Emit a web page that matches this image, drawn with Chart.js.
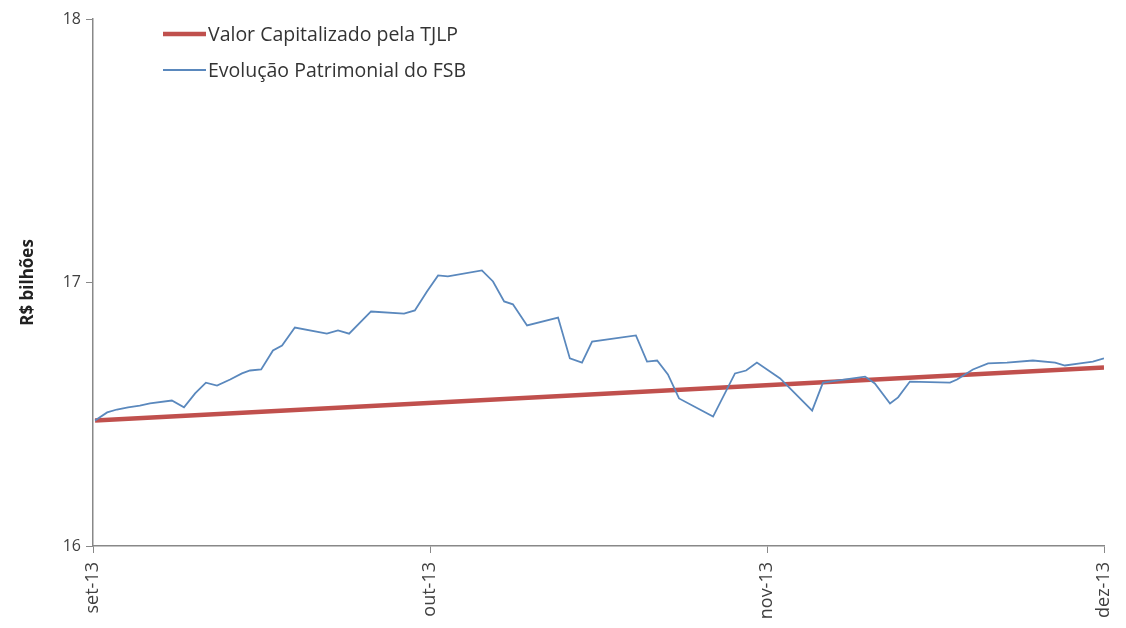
<!DOCTYPE html>
<html>
<head>
<meta charset="utf-8">
<script src="https://cdn.jsdelivr.net/npm/chart.js@4"></script>
<style>
  html, body { margin: 0; padding: 0; background: #fff; }
  #wrap { width: 1126px; height: 628px; }
</style>
</head>
<body>
<div id="wrap"><canvas id="chart" width="1126" height="628"></canvas></div>
<script>
// 横轴：月份标签（x 取值 0..3 = 从 set-13 起的月数）
const monthLabels = ['set-13', 'out-13', 'nov-13', 'dez-13'];
const yTicks = [16, 17, 18];

// 系列名
const tjlpName = 'Valor Capitalizado pela TJLP';
const fsbName = 'Evolução Patrimonial do FSB';

// TJLP 资本化值（直线）
const tjlpX = [0.006, 3.0];
const tjlpY = [16.476, 16.677];

// FSB 资产变化
const fsbX = [
  0.006, 0.042, 0.071, 0.104, 0.139, 0.169, 0.234, 0.270, 0.303, 0.335,
  0.368, 0.407, 0.442, 0.466, 0.499, 0.534, 0.561, 0.599, 0.694, 0.727,
  0.760, 0.825, 0.923, 0.955, 0.991, 1.024, 1.053, 1.154, 1.187, 1.220,
  1.246, 1.288, 1.380, 1.415, 1.451, 1.481, 1.611, 1.644, 1.674, 1.706,
  1.739, 1.840, 1.905, 1.938, 1.970, 2.039, 2.134, 2.166, 2.291, 2.320,
  2.365, 2.389, 2.424, 2.543, 2.564, 2.611, 2.656, 2.712, 2.789, 2.855,
  2.884, 2.929, 2.967, 3.0
];
const fsbY = [
  16.476, 16.507, 16.518, 16.526, 16.533, 16.541, 16.552, 16.526, 16.579, 16.620,
  16.609, 16.632, 16.655, 16.666, 16.670, 16.742, 16.761, 16.829, 16.806, 16.818,
  16.806, 16.890, 16.882, 16.894, 16.966, 17.027, 17.023, 17.046, 17.004, 16.928,
  16.917, 16.837, 16.867, 16.712, 16.696, 16.776, 16.799, 16.700, 16.704, 16.651,
  16.560, 16.491, 16.655, 16.666, 16.696, 16.636, 16.514, 16.620, 16.643, 16.617,
  16.541, 16.564, 16.624, 16.620, 16.632, 16.670, 16.693, 16.696, 16.704, 16.696,
  16.685, 16.693, 16.700, 16.712
];

const toPoints = (xs, ys) => xs.map((x, i) => ({ x: x, y: ys[i] }));

Chart.defaults.font.family = "'Open Sans', sans-serif";
Chart.defaults.color = '#404040';

// 图内图例（左上角，竖排）
const innerLegend = {
  id: 'innerLegend',
  afterDraw(chart) {
    const ctx = chart.ctx;
    const items = [
      { ds: chart.data.datasets[0], y: 34 },
      { ds: chart.data.datasets[1], y: 70 }
    ];
    ctx.save();
    ctx.font = "19.5px 'Open Sans', sans-serif";
    ctx.textBaseline = 'middle';
    items.forEach(item => {
      ctx.strokeStyle = item.ds.borderColor;
      ctx.lineWidth = item.ds.borderWidth;
      ctx.beginPath();
      ctx.moveTo(163, item.y);
      ctx.lineTo(206, item.y);
      ctx.stroke();
      ctx.fillStyle = '#333';
      ctx.fillText(item.ds.label, 208, item.y + 1);
    });
    ctx.restore();
  }
};

new Chart(document.getElementById('chart'), {
  type: 'line',
  data: {
    datasets: [
      {
        label: tjlpName,
        data: toPoints(tjlpX, tjlpY),
        borderColor: '#C0504D',
        borderWidth: 4.5,
        pointRadius: 0,
        tension: 0,
        order: 2
      },
      {
        label: fsbName,
        data: toPoints(fsbX, fsbY),
        borderColor: '#5A88BD',
        borderWidth: 1.8,
        pointRadius: 0,
        tension: 0,
        order: 1
      }
    ]
  },
  options: {
    responsive: false,
    animation: false,
    layout: { padding: { left: 0, right: 22, top: 19, bottom: 0 } },
    plugins: {
      legend: { display: false },
      tooltip: { enabled: false }
    },
    scales: {
      x: {
        type: 'linear',
        min: 0,
        max: 3,
        afterBuildTicks: scale => {
          scale.ticks = monthLabels.map((m, i) => ({ value: i }));
        },
        afterFit: scale => {
          scale.height = 82;
          scale.paddingLeft = 0;
          scale.paddingRight = 0;
        },
        ticks: {
          minRotation: 90,
          maxRotation: 90,
          padding: 9,
          font: { size: 18 },
          color: '#404040',
          callback: (v) => monthLabels[v]
        },
        grid: {
          drawOnChartArea: false,
          drawTicks: true,
          tickLength: 7,
          color: '#888'
        },
        border: { display: true, color: '#888', width: 1.5 }
      },
      y: {
        min: 16,
        max: 18,
        afterBuildTicks: scale => {
          scale.ticks = yTicks.map(v => ({ value: v }));
        },
        afterFit: scale => {
          scale.width = 93;
          scale.paddingTop = 0;
          scale.paddingBottom = 0;
        },
        ticks: {
          padding: 5,
          font: { size: 16 },
          color: '#404040'
        },
        title: {
          display: true,
          text: 'R$ bilhões',
          font: { size: 17, weight: 'bold' },
          color: '#222',
          padding: { top: 18, bottom: 0 }
        },
        grid: {
          drawOnChartArea: false,
          drawTicks: true,
          tickLength: 7,
          color: '#888'
        },
        border: { display: true, color: '#888', width: 1.5 }
      }
    }
  },
  plugins: [innerLegend]
});
</script>
</body>
</html>
